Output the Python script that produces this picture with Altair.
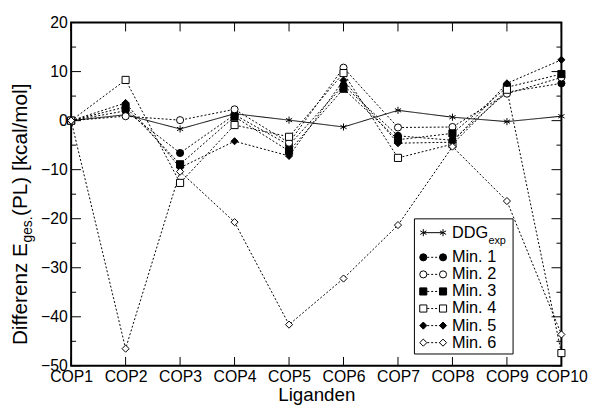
import altair as alt
import pandas as pd

categories = ["COP1", "COP2", "COP3", "COP4", "COP5", "COP6", "COP7", "COP8", "COP9", "COP10"]
series_names = ["DDG", "Min. 1", "Min. 2", "Min. 3", "Min. 4", "Min. 5", "Min. 6"]
ddg_exp = [0, 1.2, -1.7, 1.4, 0.1, -1.3, 2.1, 0.7, -0.2, 0.9]
min1 = [0, 2.0, -6.6, 1.2, -5.0, 7.2, -3.1, -4.0, 5.8, 7.6]
min2 = [0, 0.9, 0.1, 2.3, -4.5, 10.8, -1.4, -1.3, 5.5, 8.8]
min3 = [0, 2.8, -8.9, 0.8, -6.2, 6.5, -3.9, -2.6, 6.8, 9.5]
min4 = [0, 8.3, -12.7, -0.9, -3.3, 9.7, -7.6, -4.8, 6.3, -47.4]
min5 = [0, 3.6, -9.6, -4.2, -7.2, 8.2, -4.6, -4.4, 7.6, 12.4]
min6 = [0, -46.5, -10.4, -20.7, -41.6, -32.2, -21.3, -5.3, -16.4, -43.6]
y_major = [-50, -40, -30, -20, -10, 0, 10, 20]
y_minor = [-45, -35, -25, -15, -5, 5, 15]

W, H = 497, 348
FONT = "Liberation Sans"
ASTERISK = "M0,-1L0,1M-0.87,-0.5L0.87,0.5M-0.87,0.5L0.87,-0.5"
shape_range = [ASTERISK, "circle", "circle", "square", "square", "diamond", "diamond"]
fill_range = ["black", "black", "white", "black", "white", "black", "white"]
dash_range = [[1, 0], [2, 2], [2, 2], [2, 2], [2, 2], [2, 2], [2, 2]]

rows = []
for name, vals in zip(series_names, [ddg_exp, min1, min2, min3, min4, min5, min6]):
    for c, v in zip(categories, vals):
        rows.append({"series": name, "cop": c, "value": v})
df = pd.DataFrame(rows)
cat_df = pd.DataFrame({"cop": categories})
maj_df = pd.DataFrame({"v": y_major})
min_df = pd.DataFrame({"v": y_minor})
one = pd.DataFrame({"k": [0]})

xax = alt.Axis(labelAngle=0, ticks=False, domain=False, grid=False, labelFont=FONT,
               labelFontSize=16, labelColor="black", labelPadding=3, labelOverlap=False,
               labelFlush=False, title="Liganden", titleFont=FONT, titleFontSize=19,
               titleFontWeight="normal", titleColor="black", titlePadding=1)
yax = alt.Axis(values=y_major, ticks=False, domain=False, grid=False, labelFont=FONT,
               labelFontSize=16, labelColor="black", labelPadding=4, labelOverlap=False,
               labelFlush=False, title=None)
xsc = alt.Scale(domain=categories, type="point", padding=0)
ysc = alt.Scale(domain=[-50, 20], nice=False, zero=False)

X = alt.X("cop:N", sort=categories, scale=xsc, axis=xax)
Y = alt.Y("value:Q", scale=ysc, axis=yax)

shape_enc = alt.Shape("series:N", scale=alt.Scale(domain=series_names, range=shape_range), legend=None)
fill_enc = alt.Fill("series:N", scale=alt.Scale(domain=series_names, range=fill_range), legend=None)
dash_enc = alt.StrokeDash("series:N", scale=alt.Scale(domain=series_names, range=dash_range), legend=None)

lines = alt.Chart(df).mark_line(color="black", strokeWidth=1).encode(
    x=X, y=Y, detail="series:N", strokeDash=dash_enc)
points = alt.Chart(df).mark_point(filled=True, stroke="black", strokeWidth=1, size=52, opacity=1).encode(
    x=X, y=Y, shape=shape_enc, fill=fill_enc)

ytick_l = alt.Chart(maj_df).mark_rule(color="black", strokeWidth=1).encode(
    y=alt.Y("v:Q", scale=ysc, axis=yax), x=alt.value(0), x2=alt.value(10))
ytick_r = alt.Chart(maj_df).mark_rule(color="black", strokeWidth=1).encode(
    y=alt.Y("v:Q", scale=ysc, axis=yax), x=alt.value(W - 10), x2=alt.value(W))
ymin_l = alt.Chart(min_df).mark_rule(color="black", strokeWidth=1).encode(
    y=alt.Y("v:Q", scale=ysc, axis=yax), x=alt.value(0), x2=alt.value(5))
ymin_r = alt.Chart(min_df).mark_rule(color="black", strokeWidth=1).encode(
    y=alt.Y("v:Q", scale=ysc, axis=yax), x=alt.value(W - 5), x2=alt.value(W))
xtick_b = alt.Chart(cat_df).mark_rule(color="black", strokeWidth=1).encode(
    x=X, y=alt.value(H - 9), y2=alt.value(H))
xtick_t = alt.Chart(cat_df).mark_rule(color="black", strokeWidth=1).encode(
    x=X, y=alt.value(0), y2=alt.value(9))

# y-axis title with subscript
t1 = alt.Chart(one).mark_text(text="Differenz E", angle=270, align="left", baseline="alphabetic",
                              font=FONT, fontSize=21, color="black").encode(x=alt.value(-45), y=alt.value(327))
t2 = alt.Chart(one).mark_text(text="ges.", angle=270, align="left", baseline="alphabetic",
                              font=FONT, fontSize=14, color="black").encode(x=alt.value(-40), y=alt.value(223))
t3 = alt.Chart(one).mark_text(text=" (PL) [kcal/mol]", angle=270, align="left", baseline="alphabetic",
                              font=FONT, fontSize=21, color="black").encode(x=alt.value(-45), y=alt.value(196))

# legend
box = alt.Chart(one).mark_rect(fill="white", stroke="black", strokeWidth=1).encode(
    x=alt.value(348), x2=alt.value(448), y=alt.value(199), y2=alt.value(336))
ddg_rule = alt.Chart(one).mark_rule(color="black", strokeWidth=1).encode(
    x=alt.value(357), x2=alt.value(377), y=alt.value(213))
ddg_p1 = alt.Chart(one).mark_point(shape=ASTERISK, stroke="black", strokeWidth=1, size=52, opacity=1).encode(
    x=alt.value(357), y=alt.value(213))
ddg_p2 = alt.Chart(one).mark_point(shape=ASTERISK, stroke="black", strokeWidth=1, size=52, opacity=1).encode(
    x=alt.value(377), y=alt.value(213))
ddg_t = alt.Chart(one).mark_text(text="DDG", align="left", baseline="middle", font=FONT, fontSize=16.5,
                                 color="black").encode(x=alt.value(386), y=alt.value(213))
ddg_s = alt.Chart(one).mark_text(text="exp", align="left", baseline="middle", font=FONT, fontSize=11,
                                 color="black").encode(x=alt.value(423), y=alt.value(221))

leg_df = pd.DataFrame({"series": series_names[1:]})
LY = alt.Y("series:N", scale=alt.Scale(domain=series_names[1:], type="point", range=[238, 324.5], padding=0),
           axis=None)
leg_rule = alt.Chart(leg_df).mark_rule(color="black", strokeWidth=1, strokeDash=[2, 2]).encode(
    x=alt.value(357), x2=alt.value(377), y=LY)
leg_p1 = alt.Chart(leg_df).mark_point(filled=True, stroke="black", strokeWidth=1, size=52, opacity=1).encode(
    x=alt.value(357), y=LY, shape=shape_enc, fill=fill_enc)
leg_p2 = alt.Chart(leg_df).mark_point(filled=True, stroke="black", strokeWidth=1, size=52, opacity=1).encode(
    x=alt.value(377), y=LY, shape=shape_enc, fill=fill_enc)
leg_t = alt.Chart(leg_df).mark_text(align="left", baseline="middle", font=FONT, fontSize=16.5,
                                    color="black").encode(x=alt.value(386), y=LY, text="series:N")

main = alt.layer(ytick_l, ytick_r, ymin_l, ymin_r, xtick_b, xtick_t, lines, points,
                 t1, t2, t3, box, ddg_rule, ddg_p1, ddg_p2, ddg_t, ddg_s)
legend = alt.layer(leg_rule, leg_p1, leg_p2, leg_t)

chart = alt.layer(main, legend).resolve_scale(y="independent").properties(
    width=W, height=H,
    autosize=alt.AutoSizeParams(type="none"),
    padding={"left": 64, "top": 12, "right": 30, "bottom": 40},
    background="white",
).configure_view(stroke="black", strokeWidth=2)

chart.save("out.html", embed_options={"renderer": "svg", "actions": False})
